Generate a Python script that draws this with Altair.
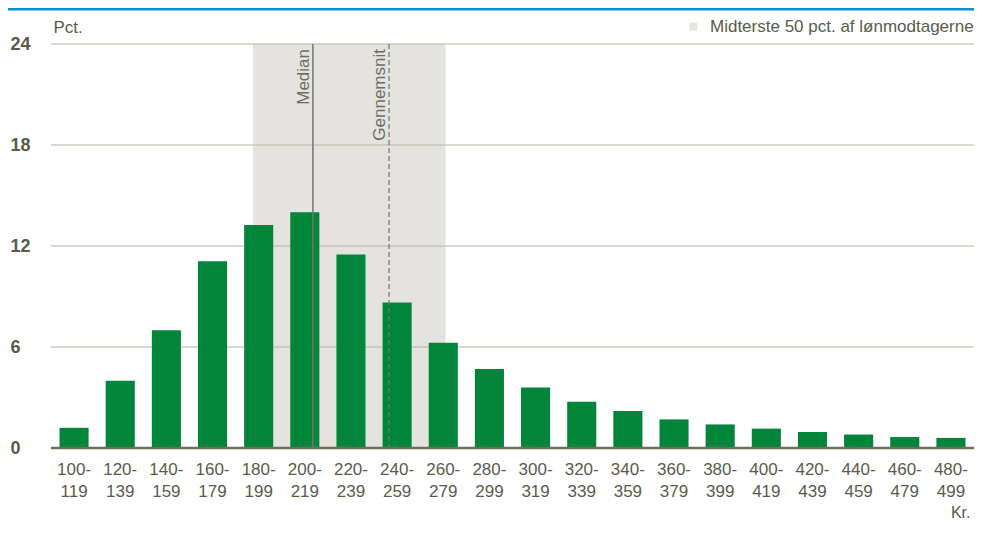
import altair as alt
import pandas as pd

intervals = ["100-119", "120-139", "140-159", "160-179", "180-199", "200-219",
             "220-239", "240-259", "260-279", "280-299", "300-319", "320-339",
             "340-359", "360-379", "380-399", "400-419", "420-439", "440-459",
             "460-479", "480-499"]
shares = [1.2, 4.0, 7.0, 11.1, 13.25, 14.0, 11.5, 8.65, 6.25, 4.7, 3.6, 2.75,
          2.2, 1.7, 1.4, 1.15, 0.95, 0.8, 0.65, 0.6]
y_ticks = [0, 6, 12, 18, 24]
band_label = "Midterste 50 pct. af lønmodtagerne"
q25, q75 = 187.5, 271.0
median_kr = 213.5
mean_kr = 246.5
kr_domain = [100, 500]

W, H = 923, 404
FONT = "Liberation Sans, Arial"
TXT = "#5b5b4c"
GREEN = "#00853a"
BAND = "#e4e3df"

bars_df = pd.DataFrame({"interval": intervals, "share": shares})
band_df = pd.DataFrame({"lo": [q25], "hi": [q75], "label": [band_label]})
grid_df = pd.DataFrame({"share": y_ticks[1:]})
zero_df = pd.DataFrame({"share": [0]})
lines_df = pd.DataFrame({"kr": [median_kr, mean_kr], "name": ["Median", "Gennemsnit"]})

yscale = alt.Scale(domain=[0, 24], nice=False, zero=True)
xq = alt.Scale(domain=kr_domain, nice=False, zero=False)

yaxis = alt.Axis(values=y_ticks, grid=False, ticks=False, domain=False,
                 labelAlign="left", labelPadding=41, labelBaseline="middle",
                 labelFont=FONT, labelFontSize=18, labelColor=TXT,
                 labelFontWeight="bold",
                 title="Pct.", titleAngle=0, titleAlign="left",
                 titleBaseline="top", titleX=2, titleY=-25,
                 titleFont=FONT, titleFontSize=17, titleFontWeight="normal",
                 titleColor=TXT)
Y = alt.Y("share:Q", scale=yscale, axis=yaxis, title="Pct.")

band = alt.Chart(band_df).mark_rect().encode(
    x=alt.X("lo:Q", scale=xq, axis=None),
    x2="hi:Q",
    y=alt.value(0),
    y2=alt.value(H),
    color=alt.Color("label:N", scale=alt.Scale(range=[BAND]),
                    legend=alt.Legend(orient="none", legendX=634, legendY=-26,
                                      title=None, symbolType="square",
                                      symbolSize=64, symbolStrokeWidth=0,
                                      labelFont=FONT, labelFontSize=17,
                                      labelColor=TXT, labelLimit=500,
                                      labelOffset=8)),
)

grid = alt.Chart(grid_df).mark_rule(color="#b6b6a8", strokeWidth=1.2).encode(y=Y)

bars = alt.Chart(bars_df).mark_bar(color=GREEN).encode(
    x=alt.X("interval:N", sort=intervals,
            scale=alt.Scale(paddingInner=0.37, paddingOuter=0.185),
            axis=alt.Axis(title="Kr.", labelAngle=0, ticks=False, domain=False,
                          labelFont=FONT, labelFontSize=17, labelColor=TXT,
                          labelBaseline="top", labelPadding=13, labelLineHeight=22,
                          labelExpr="[slice(datum.label, 0, 4), slice(datum.label, 4)]",
                          titleFont=FONT, titleFontSize=16, titleFontWeight="normal",
                          titleColor=TXT, titleAnchor="end", titleAlign="right",
                          titleBaseline="top", titleX=W - 4, titleY=56)),
    y=Y,
)

zero = alt.Chart(zero_df).mark_rule(color="#6e6e5e", strokeWidth=2.5).encode(y=Y)

median_line = alt.Chart(lines_df.iloc[[0]]).mark_rule(color="#75756a", strokeWidth=1.5).encode(
    x=alt.X("kr:Q", scale=xq, axis=None), y=alt.value(0), y2=alt.value(H)
)
mean_line = alt.Chart(lines_df.iloc[[1]]).mark_rule(color="#75756a", strokeWidth=1.2,
                                                     strokeDash=[5, 3]).encode(
    x=alt.X("kr:Q", scale=xq, axis=None), y=alt.value(0), y2=alt.value(H)
)
line_text = alt.Chart(lines_df).mark_text(angle=270, align="right", baseline="bottom",
                                          font=FONT, fontSize=17, color="#6d6d5f").encode(
    x=alt.X("kr:Q", scale=xq, axis=None), y=alt.value(5), text="name:N"
)

top_rule = alt.Chart(zero_df).mark_rule(color="#0a8fd0", strokeWidth=3).encode(
    x=alt.value(-43), x2=alt.value(W), y=alt.value(-35)
)

chart = alt.layer(
    band, grid, bars, zero, median_line, mean_line, line_text, top_rule
).resolve_scale(x="independent").properties(
    width=W, height=H,
    autosize=alt.AutoSizeParams(type="none"),
    padding={"left": 43, "top": 36, "right": 0, "bottom": 74},
).configure_view(stroke=None)

chart.save("out.html", embed_options={"renderer": "svg", "actions": False})
